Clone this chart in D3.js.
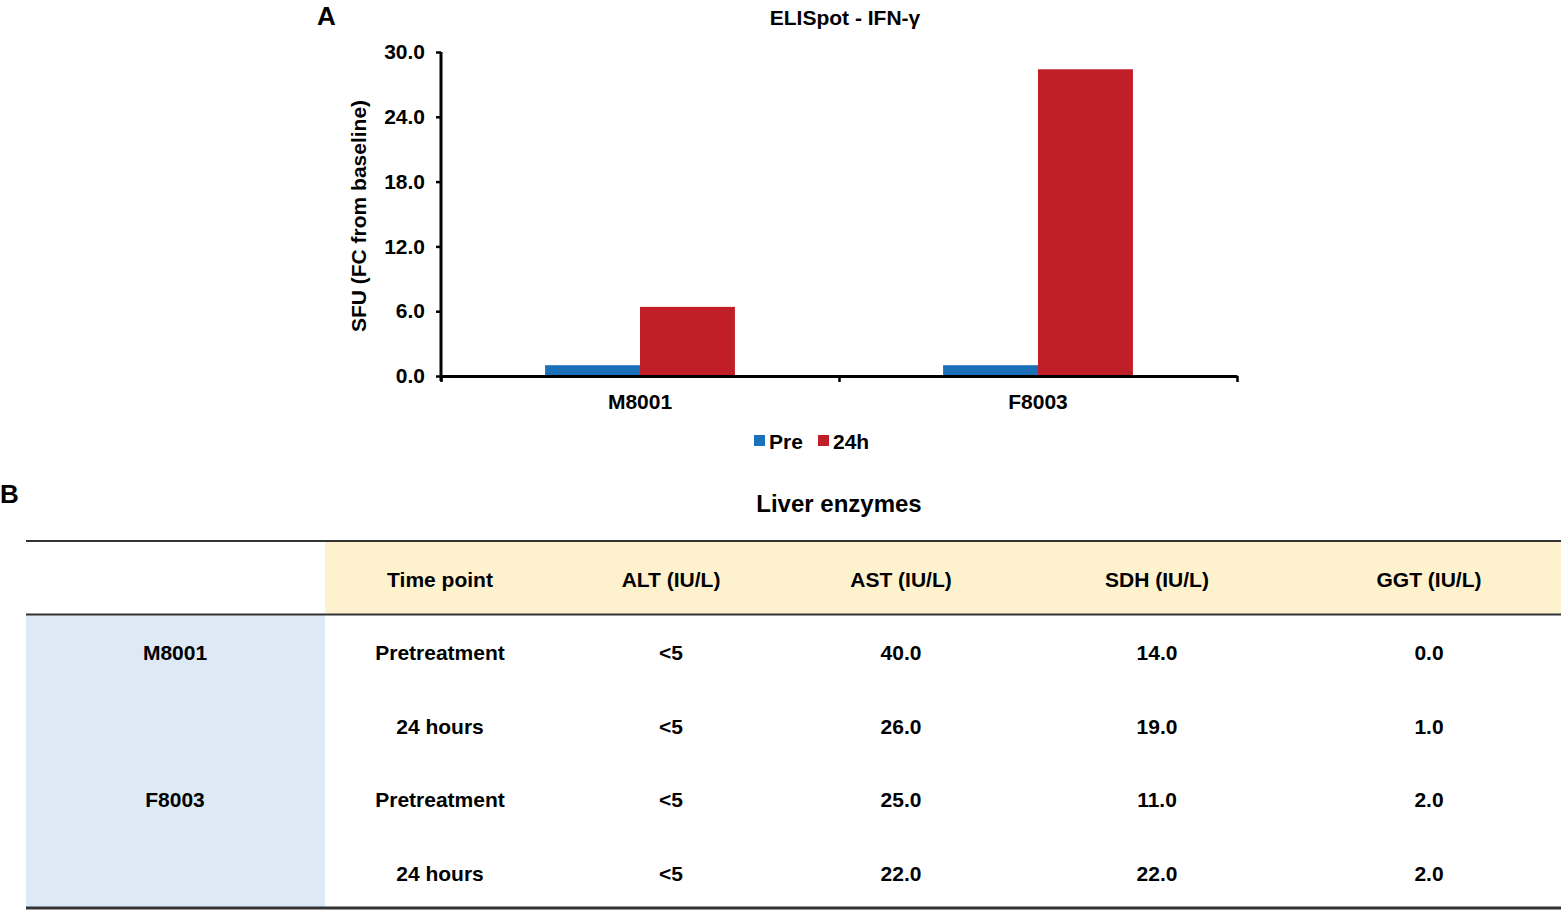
<!DOCTYPE html>
<html>
<head>
<meta charset="utf-8">
<script src="https://cdn.jsdelivr.net/npm/d3@7/dist/d3.min.js"></script>
<style>
  html, body { margin: 0; padding: 0; background: #fff; }
  svg { display: block; font-family: "Liberation Sans", Arial, Helvetica, sans-serif; font-weight: bold; }
</style>
</head>
<body>
<svg id="fig" width="1561" height="910"></svg>
<script>
// ---- Panel A data ----
const categories = ["M8001", "F8003"];
const seriesNames = ["Pre", "24h"];
const preValues = [1.0, 1.0];
const h24Values = [6.4, 28.4];
const yTickValues = [0, 6, 12, 18, 24, 30];
const seriesColors = ["#1B70B9", "#C01F27"];

// ---- Panel B data ----
const tableHeaders = ["", "Time point", "ALT (IU/L)", "AST (IU/L)", "SDH (IU/L)", "GGT (IU/L)"];
const animalLabels = ["M8001", "", "F8003", ""];
const timePoints = ["Pretreatment", "24 hours", "Pretreatment", "24 hours"];
const altValues = ["<5", "<5", "<5", "<5"];
const astValues = ["40.0", "26.0", "25.0", "22.0"];
const sdhValues = ["14.0", "19.0", "11.0", "22.0"];
const ggtValues = ["0.0", "1.0", "2.0", "2.0"];

const svg = d3.select("#fig");
const FONT = "Liberation Sans, Arial, sans-serif";

// ================= Panel A =================
const plot = { left: 441, right: 1237, top: 52, bottom: 376 };

const y = d3.scaleLinear().domain([0, 30]).range([plot.bottom, plot.top]);
const x0 = d3.scaleBand().domain(categories).range([plot.left, plot.right])
  .paddingInner(0.523).paddingOuter(0.2615);
const x1 = d3.scaleBand().domain(seriesNames).range([0, x0.bandwidth()]);
const xEdge = d3.scaleLinear().domain([0, categories.length]).range([plot.left, plot.right]);

const data = categories.map((c, i) => ({ cat: c, vals: [preValues[i], h24Values[i]] }));

// bars
const g = svg.append("g");
data.forEach(d => {
  g.selectAll(null).data(d.vals.map((v, j) => ({ v, s: seriesNames[j], j })))
    .enter().append("rect")
    .attr("x", e => x0(d.cat) + x1(e.s))
    .attr("y", e => y(e.v))
    .attr("width", x1.bandwidth())
    .attr("height", e => y(0) - y(e.v))
    .attr("fill", e => seriesColors[e.j]);
});

// y axis
const yAxis = d3.axisLeft(y).tickValues(yTickValues).tickFormat(d3.format(".1f")).tickSize(5).tickPadding(11);
const yg = svg.append("g").attr("transform", `translate(${plot.left},0)`).call(yAxis);
yg.select(".domain").attr("stroke", "#000").attr("stroke-width", 3).attr("d", `M0,${plot.top}V${plot.bottom + 5}`);
yg.selectAll(".tick line").attr("stroke", "#000").attr("stroke-width", 2.5);
yg.selectAll(".tick text").attr("fill", "#000").style("font-size", "21px").style("font-weight", "bold")
  .style("font-family", FONT);

// x axis (boundary ticks)
const xAxis = d3.axisBottom(xEdge).tickValues(d3.range(categories.length + 1)).tickFormat("").tickSize(6).tickSizeOuter(0);
const xg = svg.append("g").attr("transform", `translate(0,${plot.bottom})`).call(xAxis);
xg.select(".domain").attr("stroke", "#000").attr("stroke-width", 3);
xg.selectAll(".tick line").attr("stroke", "#000").attr("stroke-width", 2.5);

// category labels
const xLab = d3.axisBottom(x0).tickSize(0).tickPadding(18);
const xl = svg.append("g").attr("transform", `translate(0,${plot.bottom})`).call(xLab);
xl.select(".domain").remove();
xl.selectAll(".tick text").attr("fill", "#000").style("font-size", "21px").style("font-weight", "bold")
  .style("font-family", FONT);

// y label
svg.append("text")
  .attr("transform", `translate(366,${(plot.top + plot.bottom) / 2 + 2}) rotate(-90)`)
  .attr("text-anchor", "middle")
  .style("font-size", "21px")
  .text("SFU (FC from baseline)");

// title
svg.append("text").attr("x", 845).attr("y", 25).attr("text-anchor", "middle")
  .style("font-size", "21px").text("ELISpot - IFN-γ");

// panel letter A
svg.append("text").attr("x", 317).attr("y", 25).style("font-size", "26px").text("A");

// legend
const legend = svg.append("g").attr("transform", "translate(754,441)");
const legX = [0, 64];
seriesNames.forEach((s, i) => {
  legend.append("rect").attr("x", legX[i]).attr("y", -6).attr("width", 11).attr("height", 11).attr("fill", seriesColors[i]);
  legend.append("text").attr("x", legX[i] + 15).attr("y", 8).style("font-size", "21px").text(s);
});

// ================= Panel B =================
svg.append("text").attr("x", 0).attr("y", 503).style("font-size", "26px").text("B");
svg.append("text").attr("x", 839).attr("y", 512).attr("text-anchor", "middle")
  .style("font-size", "24px").text("Liver enzymes");

const tbl = { left: 26, right: 1561, top: 541, bottom: 908, firstColRight: 325 };
const rowKeys = ["header", 0, 1, 2, 3];
const rowScale = d3.scaleBand().domain(rowKeys).range([tbl.top, tbl.bottom]);
const colCenters = [175, 440, 671, 901, 1157, 1429];
const colScale = d3.scaleOrdinal().domain(tableHeaders.map((h, i) => i)).range(colCenters);

// backgrounds
svg.append("rect").attr("x", tbl.firstColRight).attr("y", rowScale("header"))
  .attr("width", tbl.right - tbl.firstColRight).attr("height", rowScale.bandwidth())
  .attr("fill", "#FEF2CE");
svg.append("rect").attr("x", tbl.left).attr("y", rowScale(0))
  .attr("width", tbl.firstColRight - tbl.left).attr("height", tbl.bottom - rowScale(0))
  .attr("fill", "#DDEAF6");

// lines
[[tbl.top, 2], [rowScale(0), 2], [tbl.bottom, 3]].forEach(([yy, w]) => {
  svg.append("line").attr("x1", tbl.left).attr("x2", tbl.right).attr("y1", yy).attr("y2", yy)
    .attr("stroke", "#333").attr("stroke-width", w);
});

// header text
svg.selectAll(".hdr").data(tableHeaders).enter().append("text")
  .attr("class", "hdr")
  .attr("x", (d, i) => colScale(i))
  .attr("y", rowScale("header") + rowScale.bandwidth() / 2 + 2)
  .attr("dy", "0.35em").attr("text-anchor", "middle")
  .style("font-size", "21px").text(d => d);

// body
const columns = [animalLabels, timePoints, altValues, astValues, sdhValues, ggtValues];
columns.forEach((col, ci) => {
  svg.selectAll(null).data(col).enter().append("text")
    .attr("x", colScale(ci))
    .attr("y", (d, ri) => rowScale(ri) + rowScale.bandwidth() / 2 + 2)
    .attr("dy", "0.35em").attr("text-anchor", "middle")
    .style("font-size", "21px").text(d => d);
});
</script>
</body>
</html>
